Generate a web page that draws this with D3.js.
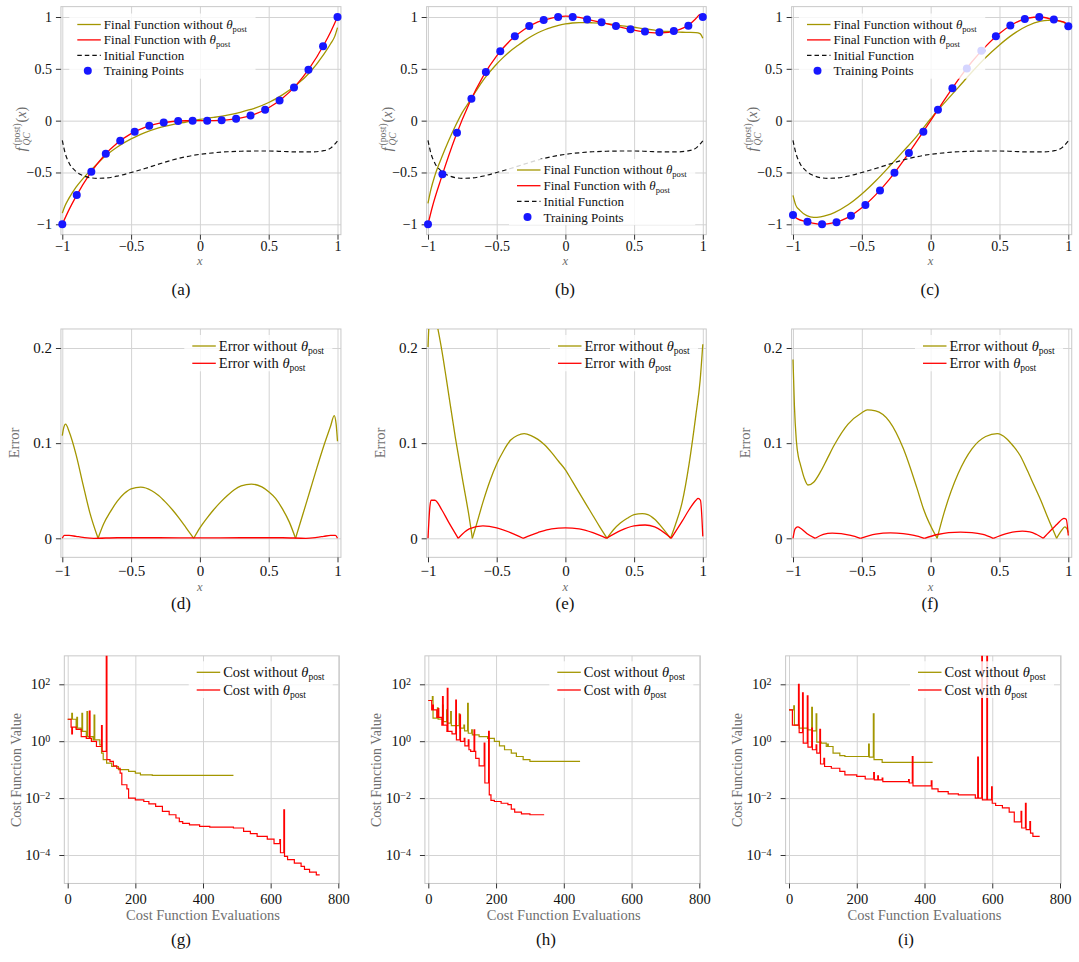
<!DOCTYPE html>
<html lang="en">
<head>
  <meta charset="UTF-8">
  <title>QC fits</title>
  <style>
    body { margin: 0; background: #fff; }
    svg { display: block; }
  </style>
</head>
<body>
  <svg id="svg" width="1079" height="962"></svg>
  <script src="https://cdn.jsdelivr.net/npm/d3@7"></script>
  <script>
    // ---- data ----
    const fnTicks = [-1, -0.5, 0, 0.5, 1]
    const errTicks = [0, 0.1, 0.2]
    const evalTicks = [0, 200, 400, 600, 800]
    const costTicks = [1e-4, 1e-2, 1, 1e2]
    const costTickExp = ['−4', '−2', '0', '2']

    const trainX = [-1, -0.895, -0.789, -0.684, -0.579, -0.474, -0.368, -0.263, -0.158, -0.053,
      0.053, 0.158, 0.263, 0.368, 0.474, 0.579, 0.684, 0.789, 0.895, 1]
    const trainA = [-1, -0.717, -0.492, -0.32, -0.194, -0.106, -0.05, -0.018, -0.004, 0,
      0, 0.004, 0.018, 0.05, 0.106, 0.194, 0.32, 0.492, 0.717, 1]
    const trainB = [-1, -0.518, -0.116, 0.212, 0.47, 0.669, 0.814, 0.913, 0.971, 1.0,
      1.0, 0.977, 0.949, 0.913, 0.881, 0.859, 0.852, 0.865, 0.916, 1.0]
    const trainC = [-0.91, -0.975, -1.0, -0.98, -0.918, -0.814, -0.674, -0.502, -0.313, -0.106,
      0.106, 0.313, 0.502, 0.674, 0.814, 0.918, 0.98, 1.0, 0.975, 0.91]

    // initial function (same in a, b, c)
    const initCurve = [[-1, -0.19], [-0.98, -0.31], [-0.95, -0.41], [-0.9, -0.49], [-0.85, -0.53],
      [-0.8, -0.55], [-0.75, -0.556], [-0.7, -0.555], [-0.6, -0.535], [-0.5, -0.5], [-0.4, -0.462],
      [-0.3, -0.42], [-0.2, -0.38], [-0.1, -0.348], [0, -0.325], [0.1, -0.31], [0.2, -0.3],
      [0.3, -0.295], [0.4, -0.293], [0.5, -0.293], [0.6, -0.297], [0.7, -0.302], [0.8, -0.302],
      [0.9, -0.29], [0.95, -0.265], [1, -0.195]]

    // final function with theta_post
    const fitA = [[-1, -1], [-0.95, -0.856], [-0.9, -0.73], [-0.8, -0.513], [-0.7, -0.343], [-0.6, -0.216],
      [-0.5, -0.125], [-0.4, -0.064], [-0.3, -0.027], [-0.2, -0.008], [-0.1, -0.001], [0, 0], [0.1, 0.001],
      [0.2, 0.008], [0.3, 0.027], [0.4, 0.064], [0.5, 0.125], [0.6, 0.216], [0.7, 0.343], [0.8, 0.513],
      [0.9, 0.73], [0.95, 0.856], [1, 1]]
    const fitB = [[-1, -1], [-0.97, -0.84], [-0.9, -0.54], [-0.8, -0.155], [-0.7, 0.166], [-0.6, 0.425],
      [-0.5, 0.625], [-0.4, 0.775], [-0.3, 0.88], [-0.2, 0.952], [-0.1, 0.99], [0, 1.008], [0.1, 0.997],
      [0.2, 0.966], [0.3, 0.937], [0.4, 0.902], [0.5, 0.873], [0.6, 0.852], [0.7, 0.846], [0.8, 0.866],
      [0.9, 0.925], [0.95, 0.985], [0.98, 1.025], [1, 1.0]]
    const fitC = [[-1, -0.909], [-0.97, -0.945], [-0.9, -0.974], [-0.8, -1.0], [-0.7, -0.984], [-0.6, -0.933],
      [-0.5, -0.841], [-0.4, -0.716], [-0.3, -0.566], [-0.2, -0.39], [-0.1, -0.198], [0, 0.001], [0.1, 0.2],
      [0.2, 0.394], [0.3, 0.568], [0.4, 0.717], [0.5, 0.841], [0.6, 0.932], [0.7, 0.988], [0.8, 1.0],
      [0.9, 0.97], [0.97, 0.95], [1, 0.906]]

    // final function without theta_post
    const plainA = [[-1, -0.892], [-0.98, -0.821], [-0.95, -0.745], [-0.9, -0.641], [-0.85, -0.559],
      [-0.8, -0.487], [-0.75, -0.422], [-0.7, -0.356], [-0.6, -0.254], [-0.5, -0.176], [-0.45, -0.144],
      [-0.4, -0.116], [-0.3, -0.07], [-0.2, -0.038], [-0.1, -0.013], [-0.05, 0], [0, 0.012], [0.1, 0.031],
      [0.2, 0.053], [0.3, 0.082], [0.37, 0.109], [0.4, 0.121], [0.5, 0.175], [0.6, 0.249], [0.7, 0.343],
      [0.8, 0.467], [0.9, 0.639], [0.95, 0.742], [0.98, 0.813], [1, 0.898]]
    const plainB = [[-1, -0.797], [-0.98, -0.67], [-0.95, -0.53], [-0.9, -0.354], [-0.85, -0.195],
      [-0.8, -0.05], [-0.75, 0.08], [-0.7, 0.182], [-0.65, 0.287], [-0.6, 0.387], [-0.55, 0.47],
      [-0.5, 0.547], [-0.45, 0.613], [-0.4, 0.672], [-0.35, 0.722], [-0.3, 0.77], [-0.25, 0.812],
      [-0.2, 0.848], [-0.15, 0.877], [-0.1, 0.9], [-0.05, 0.92], [0, 0.933], [0.05, 0.942], [0.1, 0.946],
      [0.15, 0.946], [0.2, 0.944], [0.25, 0.941], [0.3, 0.937], [0.35, 0.928], [0.4, 0.917], [0.45, 0.909],
      [0.5, 0.901], [0.55, 0.891], [0.6, 0.882], [0.65, 0.873], [0.7, 0.864], [0.77, 0.859], [0.85, 0.853],
      [0.9, 0.852], [0.95, 0.85], [0.98, 0.84], [1, 0.796]]
    const plainC = [[-1, -0.721], [-0.98, -0.815], [-0.95, -0.866], [-0.9, -0.917], [-0.85, -0.934],
      [-0.8, -0.928], [-0.75, -0.912], [-0.7, -0.887], [-0.6, -0.812], [-0.5, -0.708], [-0.45, -0.648],
      [-0.4, -0.583], [-0.3, -0.443], [-0.2, -0.297], [-0.1, -0.149], [0, 0.018], [0.047, 0.094],
      [0.1, 0.171], [0.2, 0.319], [0.3, 0.469], [0.4, 0.609], [0.5, 0.731], [0.6, 0.835], [0.7, 0.913],
      [0.8, 0.96], [0.85, 0.968], [0.9, 0.969], [0.95, 0.954], [0.97, 0.945], [1, 0.915]]

    // error curves, one array per arc between zeros
    const errPlainD = [
      [[-1, 0.108], [-0.99, 0.116], [-0.976, 0.12], [-0.95, 0.112], [-0.9, 0.088], [-0.85, 0.057], [-0.8, 0.027], [-0.74, 0]],
      [[-0.74, 0], [-0.7, 0.015], [-0.65, 0.028], [-0.6, 0.039], [-0.55, 0.047], [-0.5, 0.052], [-0.43, 0.0537],
        [-0.35, 0.05], [-0.3, 0.045], [-0.25, 0.038], [-0.2, 0.03], [-0.15, 0.021], [-0.1, 0.011], [-0.045, 0]],
      [[-0.045, 0], [0, 0.011], [0.05, 0.021], [0.1, 0.03], [0.15, 0.038], [0.2, 0.045], [0.25, 0.051], [0.3, 0.055],
        [0.374, 0.057], [0.45, 0.054], [0.5, 0.049], [0.55, 0.042], [0.6, 0.031], [0.65, 0.017], [0.695, 0]],
      [[0.695, 0], [0.75, 0.026], [0.8, 0.05], [0.85, 0.074], [0.9, 0.097], [0.95, 0.118], [0.976, 0.129], [0.99, 0.12], [1, 0.102]]
    ]
    const errFitD = [
      [[-1, 0], [-0.985, 0.003], [-0.95, 0.003], [-0.9, 0.002], [-0.85, 0.001], [-0.77, 0], [-0.6, 0.0006],
        [-0.3, 0.0006], [0, 0.0004], [0.3, 0.0006], [0.6, 0.0006], [0.77, 0], [0.85, 0.001], [0.9, 0.002],
        [0.95, 0.003], [0.985, 0.003], [1, 0]]
    ]
    const errPlainE = [
      [[-1, 0.201], [-0.99, 0.23], [-0.97, 0.242], [-0.94, 0.228], [-0.9, 0.198], [-0.866, 0.167], [-0.8, 0.105],
        [-0.75, 0.063], [-0.7, 0.022], [-0.677, 0]],
      [[-0.677, 0], [-0.65, 0.013], [-0.6, 0.038], [-0.55, 0.06], [-0.5, 0.078], [-0.45, 0.092], [-0.4, 0.103],
        [-0.35, 0.108], [-0.3, 0.11], [-0.25, 0.108], [-0.2, 0.104], [-0.15, 0.098], [-0.1, 0.09], [-0.05, 0.081],
        [0, 0.072], [0.05, 0.06], [0.1, 0.048], [0.15, 0.036], [0.2, 0.024], [0.25, 0.012], [0.303, 0]],
      [[0.303, 0], [0.35, 0.009], [0.4, 0.016], [0.45, 0.021], [0.5, 0.025], [0.56, 0.026], [0.6, 0.025],
        [0.65, 0.02], [0.7, 0.012], [0.765, 0]],
      [[0.765, 0], [0.8, 0.014], [0.85, 0.038], [0.9, 0.078], [0.95, 0.13], [0.98, 0.165], [1, 0.204]]
    ]
    const errFitE = [
      [[-1, 0], [-0.985, 0.035], [-0.976, 0.04], [-0.95, 0.04], [-0.9, 0.03], [-0.85, 0.017], [-0.78, 0]],
      [[-0.78, 0], [-0.7, 0.01], [-0.6, 0.013], [-0.5, 0.011], [-0.4, 0.006], [-0.308, 0]],
      [[-0.308, 0], [-0.2, 0.006], [-0.1, 0.01], [0, 0.011], [0.1, 0.01], [0.2, 0.006], [0.3, 0]],
      [[0.3, 0], [0.4, 0.008], [0.5, 0.013], [0.58, 0.014], [0.65, 0.012], [0.77, 0]],
      [[0.77, 0], [0.85, 0.018], [0.9, 0.03], [0.95, 0.04], [0.966, 0.042], [0.983, 0.04], [1, 0.002]]
    ]
    const errPlainF = [
      [[-1, 0.188], [-0.99, 0.14], [-0.976, 0.103], [-0.96, 0.085], [-0.947, 0.078], [-0.92, 0.064], [-0.891, 0.056],
        [-0.85, 0.059], [-0.8, 0.07], [-0.75, 0.084], [-0.7, 0.098], [-0.6, 0.12], [-0.5, 0.132], [-0.46, 0.135],
        [-0.4, 0.134], [-0.3, 0.123], [-0.2, 0.095], [-0.1, 0.053], [-0.05, 0.03], [0.047, 0]],
      [[0.047, 0], [0.1, 0.028], [0.2, 0.068], [0.3, 0.094], [0.4, 0.107], [0.484, 0.11], [0.55, 0.105], [0.6, 0.097],
        [0.65, 0.087], [0.7, 0.072], [0.75, 0.056], [0.8, 0.04], [0.85, 0.022], [0.915, 0]],
      [[0.915, 0], [0.95, 0.008], [0.975, 0.012], [0.99, 0.01], [1, 0.006]]
    ]
    const errFitF = [
      [[-1, 0], [-0.985, 0.01], [-0.966, 0.012], [-0.94, 0.01], [-0.9, 0.005], [-0.838, 0]],
      [[-0.838, 0], [-0.78, 0.004], [-0.715, 0.0055], [-0.65, 0.005], [-0.58, 0.003], [-0.51, 0]],
      [[-0.51, 0], [-0.4, 0.0045], [-0.292, 0.0058], [-0.2, 0.005], [-0.12, 0.003], [-0.045, 0]],
      [[-0.045, 0], [0.05, 0.004], [0.13, 0.006], [0.217, 0.0065], [0.3, 0.006], [0.38, 0.004], [0.455, 0]],
      [[0.455, 0], [0.55, 0.005], [0.666, 0.0075], [0.72, 0.0068], [0.77, 0.004], [0.818, 0]],
      [[0.818, 0], [0.87, 0.008], [0.92, 0.015], [0.955, 0.02], [0.968, 0.021], [0.985, 0.02], [1, 0.003]]
    ]

    // cost histories [evaluation, cost]
    const costPlainG = [[0, 5.9], [10, 5.9], [12, 9.5], [14, 5.9], [25, 2.9], [27, 6.9], [29, 2.9], [40, 2.2],
      [42, 9.5], [44, 2.2], [55, 1.45], [57, 11], [59, 1.45], [75, 1.12], [78, 8.3], [80, 1.12], [95, 0.74],
      [100, 0.38], [105, 0.224], [115, 0.17], [130, 0.129], [150, 0.1], [180, 0.087], [200, 0.076],
      [215, 0.066], [250, 0.063], [490, 0.063]]
    const costFitG = [[0, 5.9], [10, 3.1], [12, 1.8], [14, 3.1], [25, 2.6], [40, 1.45], [55, 1.26], [64, 11.5],
      [66, 1.26], [70, 0.98], [85, 0.65], [100, 3.5], [102, 0.44], [114, 2000], [116, 0.224], [125, 0.195],
      [135, 0.135], [145, 0.112], [155, 0.076], [160, 0.0295], [175, 0.021], [180, 0.01], [200, 0.0087],
      [225, 0.0076], [240, 0.0063], [260, 0.0051], [280, 0.0034], [300, 0.0026], [320, 0.002], [330, 0.0015],
      [340, 0.0013], [360, 0.00115], [390, 0.00102], [420, 0.00095], [490, 0.00089], [520, 0.00068],
      [540, 0.00056], [560, 0.00045], [590, 0.00036], [610, 0.00025], [627, 0.00035], [629, 0.00012],
      [639, 0.0039], [641, 8.9e-5], [650, 6.9e-5], [670, 5.2e-5], [690, 4e-5], [700, 3.1e-5], [715, 2.5e-5],
      [735, 2.0e-5], [745, 2.0e-5]]
    const costPlainH = [[0, 27], [12, 37], [14, 6.5], [27, 14.8], [29, 6.0], [42, 18.6], [44, 4.9], [54, 12.6],
      [56, 4.3], [66, 11], [68, 3.5], [91, 9.1], [93, 2.9], [105, 3.7], [107, 2.3], [116, 21.4], [118, 1.9],
      [128, 2.5], [130, 1.66], [150, 1.45], [175, 1.26], [195, 0.98], [210, 0.69], [225, 0.5], [245, 0.38],
      [260, 0.29], [280, 0.224], [300, 0.195], [448, 0.195]]
    const costFitH = [[0, 27], [10, 12.6], [13, 18.6], [15, 12.6], [25, 6.9], [29, 14], [31, 6.9], [40, 3.7],
      [42, 37], [44, 3.7], [55, 2.2], [56, 72], [58, 2.2], [70, 1.8], [81, 28], [83, 1.12], [93, 8.4], [95, 0.98],
      [106, 1.26], [108, 0.69], [118, 1.12], [120, 0.5], [125, 0.44], [135, 2.5], [137, 0.44], [140, 0.25],
      [150, 0.135], [165, 0.85], [167, 0.034], [178, 2.2], [180, 0.013], [185, 0.0083], [195, 0.0076],
      [215, 0.0066], [235, 0.0059], [245, 0.0041], [255, 0.0032], [275, 0.0028], [300, 0.0026], [342, 0.0026]]
    const costPlainI = [[0, 12.6], [14, 17.4], [16, 3.7], [30, 2.9], [55, 2.5], [67, 15.5], [69, 2.3], [80, 9.1],
      [82, 0.93], [95, 0.85], [110, 0.65], [114, 0.79], [116, 0.65], [130, 0.38], [150, 0.31], [165, 0.29],
      [235, 0.79], [237, 0.275], [249, 9.1], [251, 0.224], [275, 0.18], [424, 0.18]]
    const costFitI = [[0, 12.6], [8, 12.6], [10, 3.7], [28, 100], [30, 2.0], [40, 50], [42, 0.85], [54, 39],
      [56, 0.62], [67, 2.9], [69, 0.5], [80, 0.74], [82, 0.38], [91, 2.6], [93, 0.158], [103, 0.25], [105, 0.129],
      [125, 0.112], [150, 0.087], [165, 0.066], [200, 0.058], [225, 0.047], [250, 0.079], [252, 0.044],
      [262, 0.06], [264, 0.044], [275, 0.05], [277, 0.038], [353, 0.045], [355, 0.034], [364, 0.29], [366, 0.027],
      [420, 0.04], [422, 0.021], [440, 0.017], [470, 0.014], [500, 0.013], [550, 0.01], [557, 0.275], [559, 0.01],
      [569, 2000], [571, 0.0087], [584, 2000], [586, 0.0087], [598, 0.025], [600, 0.0066], [610, 0.0055],
      [630, 0.0045], [650, 0.0032], [665, 0.00145], [685, 0.0034], [687, 0.00089], [698, 0.0066], [700, 0.00078],
      [711, 0.0015], [713, 0.00059], [720, 0.00045], [740, 0.00045]]

    // ---- styling ----
    const serif = '"Liberation Serif", "Times New Roman", serif'
    const olive = '#a39600', red = '#ff0000', blue = '#1717ff'
    const gridColor = '#d3d3d3', labelGray = '#6e6e6e'
    const numFmt = d3.format('~g')

    const svg = d3.select('#svg').attr('font-family', serif)
    const defs = svg.append('defs')

    function makePanel(p) {
      const g = svg.append('g')
      const [x0, x1] = p.fx, [y0, y1] = p.fy
      defs.append('clipPath').attr('id', 'c' + p.id)
        .append('rect').attr('x', x0).attr('y', y0).attr('width', x1 - x0).attr('height', y1 - y0)

      // grid
      g.append('g').attr('transform', `translate(0,${y1})`)
        .call(d3.axisBottom(p.xs).tickValues(p.xTicks).tickSize(-(y1 - y0)).tickFormat(''))
        .call(a => a.select('.domain').remove())
        .selectAll('line').attr('stroke', gridColor)
      g.append('g').attr('transform', `translate(${x0},0)`)
        .call(d3.axisLeft(p.ys).tickValues(p.yTicks).tickSize(-(x1 - x0)).tickFormat(''))
        .call(a => a.select('.domain').remove())
        .selectAll('line').attr('stroke', gridColor)
      g.append('rect').attr('x', x0).attr('y', y0).attr('width', x1 - x0).attr('height', y1 - y0)
        .attr('fill', 'none').attr('stroke', '#c8c8c8')

      // axes
      const bx = g.append('g').attr('transform', `translate(0,${y1})`)
        .call(d3.axisBottom(p.xs).tickValues(p.xTicks).tickSize(5).tickPadding(p.xPad).tickFormat(p.xFmt))
      const by = g.append('g').attr('transform', `translate(${x0},0)`)
        .call(d3.axisLeft(p.ys).tickValues(p.yTicks).tickSize(5).tickPadding(p.yPad).tickFormat(p.yFmt))
      ;[bx, by].forEach(a => {
        a.select('.domain').remove()
        a.attr('font-family', serif).attr('font-size', p.tickSize)
        a.selectAll('line').attr('stroke', '#333')
        a.selectAll('text').attr('fill', '#111')
      })
      if (p.afterY) p.afterY(by)
      p.g = g
      p.data = g.append('g').attr('clip-path', `url(#c${p.id})`)
      return p
    }

    function legend(x, y0, step, size, items) {
      const lg = svg.append('g')
      const bg = lg.append('rect').attr('fill', '#fff').attr('fill-opacity', 0.82)
      const inner = lg.append('g')
      items.forEach((it, i) => {
        const y = y0 + i * step
        if (it.kind === 'dot') {
          inner.append('circle').attr('cx', x + 10.5).attr('cy', y).attr('r', 4).attr('fill', blue)
        } else {
          inner.append('line').attr('x1', x).attr('x2', x + 23.5).attr('y1', y).attr('y2', y)
            .attr('stroke', it.color).attr('stroke-width', 1.3)
            .attr('stroke-dasharray', it.kind === 'dash' ? '4.5,3' : null)
        }
        const t = inner.append('text').attr('x', x + 26.5).attr('y', y).attr('dy', '0.34em')
          .attr('font-size', size).attr('fill', '#111')
        t.append('tspan').text(it.text)
        if (it.theta) {
          t.append('tspan').attr('font-style', 'italic').text('θ')
          t.append('tspan').attr('font-size', size * 0.66).attr('dy', '0.32em').text('post')
        }
      })
      const b = inner.node().getBBox()
      bg.attr('x', x - 8).attr('y', y0 - 11).attr('width', b.x + b.width + 8 - (x - 8))
        .attr('height', (items.length - 1) * step + 19)
    }

    function caption(x, y, s) {
      svg.append('text').attr('x', x).attr('y', y).attr('text-anchor', 'middle')
        .attr('font-size', 17).attr('fill', '#111').text(`(${s})`)
    }

    function xLabelItalic(x, y) {
      svg.append('text').attr('x', x).attr('y', y).attr('text-anchor', 'middle').attr('font-size', 12.5)
        .attr('font-style', 'italic').attr('fill', labelGray).text('x')
    }

    function yLabelPlain(x, y, s, size) {
      svg.append('text').attr('transform', `translate(${x},${y}) rotate(-90)`).attr('text-anchor', 'middle')
        .attr('font-size', size).attr('fill', labelGray).text(s)
    }

    function fLabel(x, y) {
      const g = svg.append('g').attr('transform', `translate(${x},${y}) rotate(-90)`).attr('fill', labelGray)
      g.append('text').attr('x', -23).attr('y', 0).attr('font-size', 15).attr('font-style', 'italic').text('f')
      g.append('text').attr('x', -17).attr('y', -6).attr('font-size', 9.5).text('(post)')
      g.append('text').attr('x', -17).attr('y', 4).attr('font-size', 9.5).attr('font-style', 'italic').text('QC')
      const t = g.append('text').attr('x', 6).attr('y', 0).attr('font-size', 14)
      t.append('tspan').text('(')
      t.append('tspan').attr('font-style', 'italic').text('x')
      t.append('tspan').text(')')
    }

    const letters = 'abcdefghi'
    const fnCols = [[62.3, 337.5], [428, 702.8], [793, 1068.3]]
    const costCols = [[67.7, 338.3], [428.3, 699.3], [789, 1060]]
    const capX = [181, 565, 930]
    const capXCost = [181, 546, 906]

    // ---- row 1: fitted functions ----
    const trainSets = [trainA, trainB, trainC]
    const fitSets = [fitA, fitB, fitC]
    const plainSets = [plainA, plainB, plainC]
    const legendPos = [[15, 24.5, 15.4], [89, 170, 15.7], [14, 24.5, 15.4]]

    fnCols.forEach((c, i) => {
      const xs = d3.scaleLinear([-1, 1], c)
      const ys = d3.scaleLinear([-1, 1], [224.3, 17])
      const p = makePanel({
        id: 'f' + i, xs, ys, fx: [xs(-1.01), xs(1.025)], fy: [ys(1.1), ys(-1.1)],
        xTicks: fnTicks, yTicks: fnTicks, xFmt: numFmt, yFmt: numFmt, xPad: 1, yPad: 4, tickSize: 14
      })
      const line = d3.line().x(d => xs(d[0])).y(d => ys(d[1])).curve(d3.curveMonotoneX)
      p.data.append('path').attr('d', line(plainSets[i])).attr('fill', 'none')
        .attr('stroke', olive).attr('stroke-width', 1.3)
      p.data.append('path').attr('d', line(fitSets[i])).attr('fill', 'none')
        .attr('stroke', red).attr('stroke-width', 1.3)
      p.data.append('path').attr('d', line(initCurve)).attr('fill', 'none')
        .attr('stroke', '#111').attr('stroke-width', 1.2).attr('stroke-dasharray', '4.5,3')
      p.g.append('g').selectAll('circle').data(trainX).join('circle')
        .attr('cx', d => xs(d)).attr('cy', (d, j) => ys(trainSets[i][j])).attr('r', 4).attr('fill', blue)

      const [lx, ly, ls] = legendPos[i]
      legend(c[0] + lx, ly, ls, 13, [
        { kind: 'line', color: olive, text: 'Final Function without ', theta: true },
        { kind: 'line', color: red, text: 'Final Function with ', theta: true },
        { kind: 'dash', color: '#111', text: 'Initial Function' },
        { kind: 'dot', text: 'Training Points' }
      ])
      xLabelItalic(xs(0), 265)
      fLabel(c[0] - 36, 128.5)
      caption(capX[i], 295, letters[i])
    })

    // ---- row 2: errors ----
    const errPlainSets = [errPlainD, errPlainE, errPlainF]
    const errFitSets = [errFitD, errFitE, errFitF]

    fnCols.forEach((c, i) => {
      const xs = d3.scaleLinear([-1, 1], c)
      const ys = d3.scaleLinear([0, 0.2], [538.3, 348])
      const p = makePanel({
        id: 'e' + i, xs, ys, fx: [xs(-1.01), xs(1.025)], fy: [ys(0.22), ys(-0.02)],
        xTicks: fnTicks, yTicks: errTicks, xFmt: numFmt, yFmt: numFmt, xPad: 3, yPad: 4, tickSize: 15
      })
      const line = d3.line().x(d => xs(d[0])).y(d => ys(d[1])).curve(d3.curveMonotoneX)
      errPlainSets[i].forEach(arc => p.data.append('path').attr('d', line(arc)).attr('fill', 'none')
        .attr('stroke', olive).attr('stroke-width', 1.3))
      errFitSets[i].forEach(arc => p.data.append('path').attr('d', line(arc)).attr('fill', 'none')
        .attr('stroke', red).attr('stroke-width', 1.3))
      legend(c[0] + 130, 346, 17.3, 14.5, [
        { kind: 'line', color: olive, text: 'Error without ', theta: true },
        { kind: 'line', color: red, text: 'Error with ', theta: true }
      ])
      xLabelItalic(xs(0), 591)
      yLabelPlain(c[0] - 43, 443, 'Error', 14.5)
      caption(capX[i], 609, letters[i + 3])
    })

    // ---- row 3: cost histories ----
    const costPlainSets = [costPlainG, costPlainH, costPlainI]
    const costFitSets = [costFitG, costFitH, costFitI]

    costCols.forEach((c, i) => {
      const xs = d3.scaleLinear([0, 800], c)
      const ys = d3.scaleLog([1e-4, 1e2], [855, 684.3])
      const p = makePanel({
        id: 'k' + i, xs, ys, fx: [xs(-10), xs(803)], fy: [ys(1e3), ys(1e-5)],
        xTicks: evalTicks, yTicks: costTicks, xFmt: numFmt, yFmt: () => '10', xPad: 5, yPad: 9, tickSize: 14.5,
        afterY: a => a.selectAll('.tick text').each(function (d) {
          d3.select(this).append('tspan').attr('dy', '-0.45em').attr('font-size', 10)
            .text(costTickExp[costTicks.indexOf(d)])
        })
      })
      const line = d3.line().x(d => xs(d[0])).y(d => ys(d[1])).curve(d3.curveStepAfter)
      p.data.append('path').attr('d', line(costPlainSets[i])).attr('fill', 'none')
        .attr('stroke', olive).attr('stroke-width', 1.2)
      p.data.append('path').attr('d', line(costFitSets[i])).attr('fill', 'none')
        .attr('stroke', red).attr('stroke-width', 1.2)
      legend(c[0] + 129, 672.3, 17.7, 14.5, [
        { kind: 'line', color: olive, text: 'Cost without ', theta: true },
        { kind: 'line', color: red, text: 'Cost with ', theta: true }
      ])
      svg.append('text').attr('x', xs(400)).attr('y', 920).attr('text-anchor', 'middle')
        .attr('font-size', 14.5).attr('fill', labelGray).text('Cost Function Evaluations')
      yLabelPlain(c[0] - 47, 770, 'Cost Function Value', 14)
      caption(capXCost[i], 945, letters[i + 6])
    })
  </script>
</body>
</html>
